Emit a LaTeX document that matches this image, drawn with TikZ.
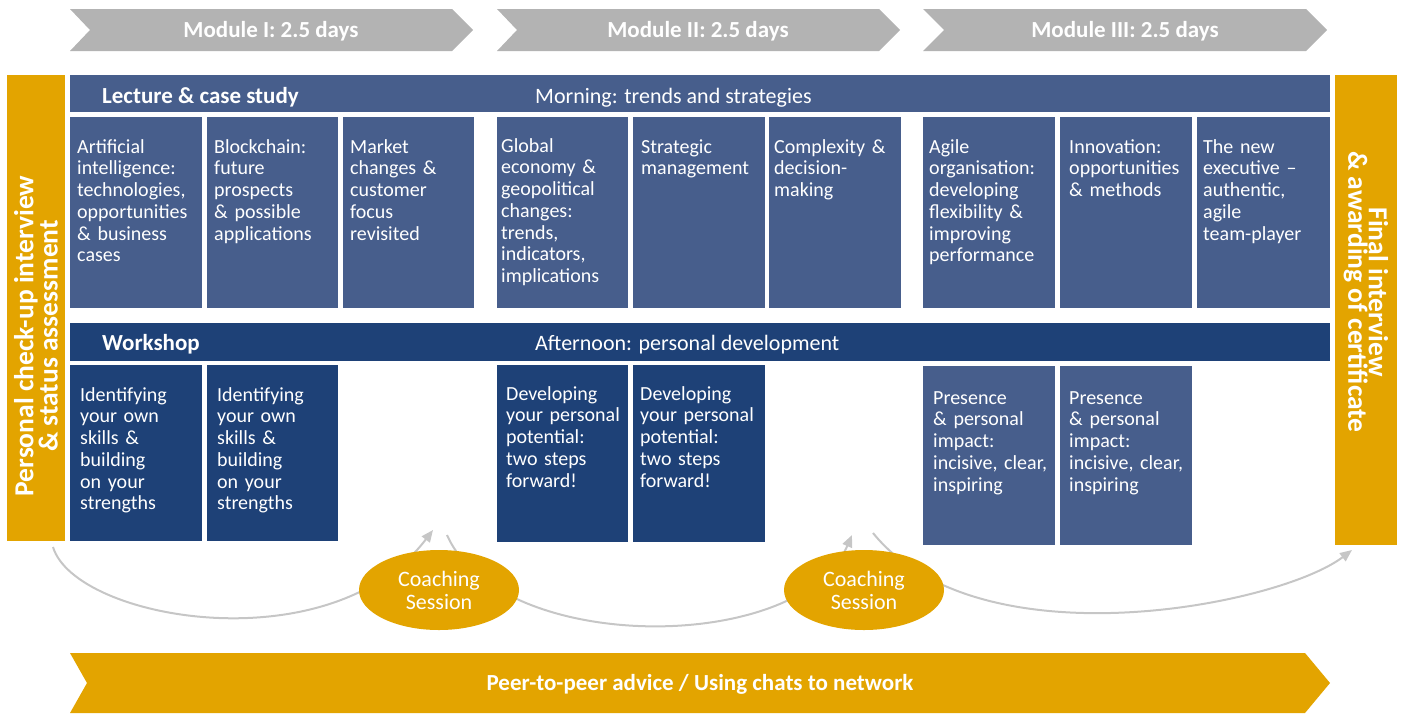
\documentclass[tikz,border=0pt]{standalone}
\usepackage{fontspec}
\setmainfont{Carlito}
\usetikzlibrary{arrows.meta,shapes.geometric}
\definecolor{lblue}{HTML}{475E8C}
\definecolor{dblue}{HTML}{1E4177}
\definecolor{gold}{HTML}{E3A400}
\definecolor{chev}{HTML}{B3B3B3}
\definecolor{curvegray}{HTML}{C6C6C6}
\newcommand\cardbox[6]{\node[#2, minimum width={#5-#3}, minimum height={#6-#4}] (#1) at (#3,#4) {};}
\newcommand\cardtext[4]{\node[btext] (#1) at (#2,{#3-17}) {\rule{0pt}{17pt}#4};}
\begin{document}
\begin{tikzpicture}[x=1pt,y=-1pt,
  lcard/.style={fill=lblue, draw=none, inner sep=0pt, outer sep=0pt, anchor=north west},
  dcard/.style={fill=dblue, draw=none, inner sep=0pt, outer sep=0pt, anchor=north west},
  btext/.style={inner sep=0pt, text=white, align=left, text width=128pt, anchor=north west, font=\fontsize{20}{21.7}\selectfont},
  htext/.style={inner sep=0pt, text=white, anchor=base west, font=\fontsize{22}{24}\selectfont},
  hbold/.style={inner sep=0pt, text=white, anchor=base west, font=\fontsize{23}{25}\selectfont\bfseries},
  modtext/.style={inner sep=0pt, text=white, font=\fontsize{23}{25}\selectfont\bfseries},
  vtext/.style={inner sep=0pt, text=white, align=center, font=\fontsize{27.5}{19}\selectfont\bfseries},
  coach/.style={ellipse, fill=gold, inner sep=0pt, minimum width=160pt, minimum height=80pt, text=white, align=center, font=\fontsize{22}{23}\selectfont},
  flow/.style={draw=curvegray, line width=2pt, -{Triangle[length=12pt,width=10pt]}}
]
\useasboundingbox (0,0) rectangle (1402,713);

% module chevrons
\fill[chev] (70,9) -- (452,9) -- (473,30) -- (452,51) -- (70,51) -- (90,30) -- cycle;
\fill[chev] (497,9) -- (879,9) -- (900,30) -- (879,51) -- (497,51) -- (517,30) -- cycle;
\fill[chev] (923,9) -- (1306,9) -- (1327,30) -- (1306,51) -- (923,51) -- (944,30) -- cycle;
\node[modtext] (m1) at (271,31) {Module I: 2.5 days};
\node[modtext] (m2) at (698,31) {Module II: 2.5 days};
\node[modtext] (m3) at (1125,31) {Module III: 2.5 days};

% side bars
\node[fill=gold, inner sep=0pt, outer sep=0pt, anchor=north west, minimum width=58pt, minimum height=466pt] (lbar) at (7,75) {};
\node[fill=gold, inner sep=0pt, outer sep=0pt, anchor=north west, minimum width=62pt, minimum height=470pt] (rbar) at (1335,75) {};
\node[vtext, rotate=90] (ltext) at (36,336) {Personal check-up interview\\\& status assessment};
\node[vtext, rotate=-90] (rtext) at (1366,292) {Final interview\\\& awarding of certificate};

% lecture row
\cardbox{lbarh}{lcard}{70}{75}{1330}{112}
\node[hbold] (lh) at (102,103) {Lecture \& case study};
\node[htext] (lm) at (535,103) {Morning: trends and strategies};

\cardbox{l1}{lcard}{70}{117}{202}{308}
\cardbox{l2}{lcard}{207}{117}{338}{308}
\cardbox{l3}{lcard}{343}{117}{474}{308}
\cardbox{l4}{lcard}{497}{117}{628}{308}
\cardbox{l5}{lcard}{633}{117}{765}{308}
\cardbox{l6}{lcard}{769}{117}{901}{308}
\cardbox{l7}{lcard}{923}{117}{1055}{308}
\cardbox{l8}{lcard}{1060}{117}{1192}{308}
\cardbox{l9}{lcard}{1197}{117}{1330}{308}

\cardtext{l1t}{77}{153}{Artificial\\intelligence:\\technologies,\\opportunities\\\& business\\cases}
\cardtext{l2t}{214}{153}{Blockchain:\\future\\prospects\\\& possible\\applications}
\cardtext{l3t}{350}{153}{Market\\changes \&\\customer\\focus\\revisited}
\cardtext{l4t}{501}{152}{Global\\economy \&\\geopolitical\\changes:\\trends,\\indicators,\\implications}
\cardtext{l5t}{641}{153}{Strategic\\management}
\cardtext{l6t}{774}{153}{Complexity \&\\decision-\\making}
\cardtext{l7t}{929}{153}{Agile\\organisation:\\developing\\flexibility \&\\improving\\performance}
\cardtext{l8t}{1069}{153}{Innovation:\\opportunities\\\& methods}
\cardtext{l9t}{1203}{153}{The new\\executive –\\authentic,\\agile\\team-player}

% workshop row
\cardbox{wbarh}{dcard}{70}{323}{1330}{361}
\node[hbold] (wh) at (102,350) {Workshop};
\node[htext] (wm) at (535,350) {Afternoon: personal development};

\cardbox{w1}{dcard}{70}{365}{202}{541}
\cardbox{w2}{dcard}{207}{365}{338}{541}
\cardbox{w3}{dcard}{497}{365}{628}{542}
\cardbox{w4}{dcard}{633}{365}{765}{542}
\cardbox{w5}{lcard}{923}{366}{1055}{545}
\cardbox{w6}{lcard}{1060}{366}{1192}{545}

\cardtext{w1t}{80}{401}{Identifying\\your own\\skills \&\\building\\on your\\strengths}
\cardtext{w2t}{217}{401}{Identifying\\your own\\skills \&\\building\\on your\\strengths}
\cardtext{w3t}{506}{400}{Developing\\your personal\\potential:\\two steps\\forward!}
\cardtext{w4t}{640}{400}{Developing\\your personal\\potential:\\two steps\\forward!}
\cardtext{w5t}{933}{404}{Presence\\\& personal\\impact:\\incisive, clear,\\inspiring}
\cardtext{w6t}{1069}{404}{Presence\\\& personal\\impact:\\incisive, clear,\\inspiring}

% coaching flow curves
\coordinate (s1) at (53,547);
\coordinate (e1) at (433,530);
\coordinate (s2) at (447,535);
\coordinate (e2) at (852,535);
\coordinate (s3) at (873,533);
\coordinate (e3) at (1352,550);
\draw[flow] (s1) .. controls (75,620) and (330,665) .. (e1);
\draw[flow] (s2) .. controls (500,655) and (800,655) .. (e2);
\draw[flow] (s3) .. controls (980,665) and (1280,605) .. (e3);

\node[coach] (c1) at (439,590) {Coaching\\Session};
\node[coach] (c2) at (864,590) {Coaching\\Session};

% bottom band
\fill[gold] (70,653) -- (1305,653) -- (1330,683) -- (1305,713) -- (70,713) -- (87,683) -- cycle;
\node[modtext] (peer) at (700,684) {Peer-to-peer advice / Using chats to network};
\end{tikzpicture}
\end{document}
